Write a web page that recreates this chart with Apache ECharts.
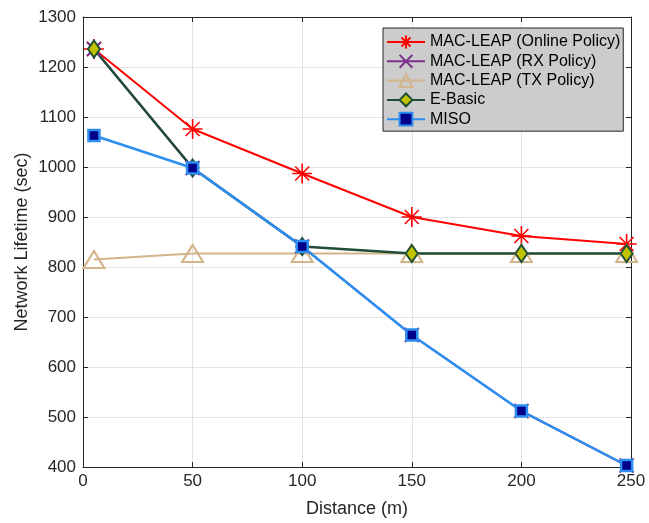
<!DOCTYPE html>
<html>
<head>
<meta charset="utf-8">
<script src="https://cdn.jsdelivr.net/npm/echarts@6/dist/echarts.min.js"></script>
<style>html,body{margin:0;padding:0;background:#fff}#c{width:649px;height:523px}</style>
</head>
<body>
<div id="c"></div>
<script>
const distances = [5, 50, 100, 150, 200, 248];
const onlinePolicy = [1236, 1076, 987, 900, 862, 846];
const rxPolicy = [1236, 998, 841, 664, 512, 403];
const txPolicy = [815, 827, 827, 827, 827, 827];
const eBasic = [1236, 998, 841, 827, 827, 827];
const miso = [1063, 998, 841, 664, 512, 403];
const xTicks = [0, 50, 100, 150, 200, 250];
const yTicks = [400, 500, 600, 700, 800, 900, 1000, 1100, 1200, 1300];

const FONT = '"Liberation Sans", Arial, Helvetica, sans-serif';
const AX = '#262626';
function pairs(vals){ return distances.map((d,i)=>[d, vals[i]]); }

const chart = echarts.init(document.getElementById('c'), null, {renderer:'canvas'});
const axisCommon = {
  axisLine:{show:true, onZero:false, lineStyle:{color:AX, width:1}},
  axisTick:{show:true, inside:true, length:5, lineStyle:{color:AX}},
};
chart.setOption({
  animation:false,
  backgroundColor:'#fff',
  textStyle:{fontFamily:FONT},
  grid:{left:83, right:18, top:17, bottom:56, containLabel:false},
  legend:{
    orient:'vertical', left:383, top:28,
    backgroundColor:'#cccccc', borderColor:AX, borderWidth:1,
    padding:[6,3,4,3], itemWidth:38, itemHeight:16, itemGap:3.3,
    textStyle:{fontFamily:FONT, fontSize:16, color:'#000', lineHeight:16},
    data:['MAC-LEAP (Online Policy)','MAC-LEAP (RX Policy)','MAC-LEAP (TX Policy)','E-Basic','MISO']
  },
  xAxis:[
    Object.assign({type:'value', min:0, max:250, interval:50, position:'bottom',
      name:'Distance (m)', nameLocation:'middle', nameGap:33, nameMoveOverlap:false,
      nameTextStyle:{fontFamily:FONT, fontSize:18, color:AX},
      axisLabel:{fontFamily:FONT, fontSize:17, color:AX, margin:6,
        formatter:(v)=>xTicks.includes(v)?String(v):''},
      splitLine:{show:true, lineStyle:{color:'#e3e3e3', width:1}}}, axisCommon),
    Object.assign({type:'value', min:0, max:250, interval:50, position:'top',
      axisLabel:{show:false}, splitLine:{show:false}}, axisCommon)
  ],
  yAxis:[
    Object.assign({type:'value', min:400, max:1300, interval:100, position:'left',
      name:'Network Lifetime (sec)', nameLocation:'middle', nameGap:52, nameMoveOverlap:false,
      nameTextStyle:{fontFamily:FONT, fontSize:18, color:AX},
      axisLabel:{fontFamily:FONT, fontSize:17, color:AX, margin:7,
        formatter:(v)=>yTicks.includes(v)?String(v):''},
      splitLine:{show:true, lineStyle:{color:'#e3e3e3', width:1}}}, axisCommon),
    Object.assign({type:'value', min:400, max:1300, interval:100, position:'right',
      axisLabel:{show:false}, splitLine:{show:false}}, axisCommon)
  ],
  series:[
    {name:'MAC-LEAP (Online Policy)', type:'line', data:pairs(onlinePolicy),
     symbol:'path://M0,10 L20,10 M10,0 L10,20 M3,3 L17,17 M3,17 L17,3', symbolSize:20,
     lineStyle:{color:'#ff0000', width:2},
     itemStyle:{color:'transparent', borderColor:'#ff0000', borderWidth:1.6}},
    {name:'MAC-LEAP (RX Policy)', type:'line', data:pairs(rxPolicy),
     symbol:'path://M0,0 L10,10 M0,10 L10,0', symbolSize:14,
     lineStyle:{color:'#7e2f8e', width:2},
     itemStyle:{color:'transparent', borderColor:'#7e2f8e', borderWidth:2}},
    {name:'MAC-LEAP (TX Policy)', type:'line', data:pairs(txPolicy),
     symbol:'triangle', symbolSize:[21,17],
     lineStyle:{color:'#d4b48a', width:2},
     itemStyle:{color:'transparent', borderColor:'#d4b48a', borderWidth:2}},
    {name:'E-Basic', type:'line', data:pairs(eBasic),
     symbol:'diamond', symbolSize:[12,17],
     lineStyle:{color:'#1f4d35', width:2.5},
     itemStyle:{color:'#c2c200', borderColor:'#1f4d35', borderWidth:2}},
    {name:'MISO', type:'line', data:pairs(miso),
     symbol:'rect', symbolSize:11,
     lineStyle:{color:'#2b8ef0', width:2.5},
     itemStyle:{color:'#00008b', borderColor:'#2b8ef0', borderWidth:2.5}}
  ]
});
</script>
</body>
</html>
